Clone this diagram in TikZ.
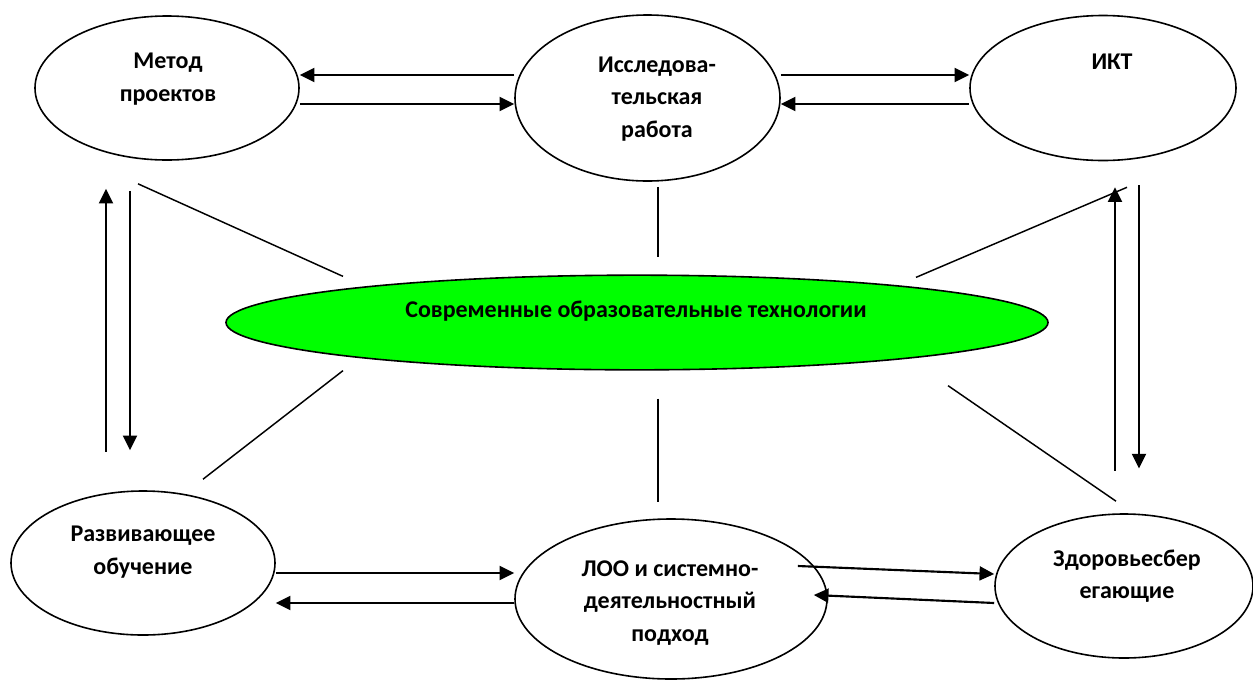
\documentclass[tikz,border=0pt]{standalone}
\usepackage{fontspec}
\setmainfont{Carlito}
\usetikzlibrary{shapes.geometric,arrows.meta,calc}

\tikzset{every picture/.style={line width=0.75pt}}
\tikzset{
  oval/.style={draw, ellipse, line width=1.2pt, inner sep=0pt},
  lbl/.style={align=center, inner sep=0.75pt, font=\fontsize{18}{24.5}\selectfont\bfseries},
  arr/.style={line width=1.6pt, -{Triangle[length=11pt,width=10.5pt]}},
  tie/.style={line width=1.1pt},
}

\begin{document}
\begin{tikzpicture}[x=0.75pt,y=0.75pt,yscale=-1,xscale=1]
\useasboundingbox (0,0) rectangle (1253,679);

%Shape: Ellipse
\node[oval, minimum width=198pt, minimum height=108pt] (mp) at (167,88) {};
%Shape: Ellipse
\node[oval, minimum width=198.75pt, minimum height=124.5pt] (ir) at (647.5,98) {};
%Shape: Ellipse
\node[oval, minimum width=199.5pt, minimum height=108.75pt] (ikt) at (1103,88) {};
%Shape: Ellipse
\node[oval, fill={rgb,255:red,0;green,255;blue,0}, minimum width=616.5pt, minimum height=71pt] (sot) at (637,322.5) {};
%Shape: Ellipse
\node[oval, minimum width=198pt, minimum height=108pt] (ro) at (143,563) {};
%Shape: Ellipse
\node[oval, minimum width=234pt, minimum height=120pt] (loo) at (671,599) {};
%Shape: Ellipse
\node[oval, minimum width=193.5pt, minimum height=108pt] (zs) at (1124,586) {};

%Straight Lines
\draw[arr] (ir.west |- 0,75) -- (mp.east |- 0,75);
\draw[arr] (mp.east |- 0,104) -- (ir.west |- 0,104);
\draw[arr] (ir.east |- 0,75) -- (ikt.west |- 0,75);
\draw[arr] (ikt.west |- 0,104) -- (ir.east |- 0,104);
%Straight Lines
\draw[arr, shorten <=29pt, shorten >=21pt] (ro.north -| 106,0) -- (mp.south -| 106,0);
\draw[arr, shorten <=22.5pt, shorten >=30pt] (mp.south -| 130,0) -- (ro.north -| 130,0);
\draw[arr, shorten <=32pt, shorten >=19.5pt] (zs.north -| 1115,0) -- (ikt.south -| 1115,0);
\draw[arr, shorten <=18pt, shorten >=33.5pt] (ikt.south -| 1139,0) -- (zs.north -| 1139,0);
%Straight Lines
\draw[arr] (ro.east |- 0,573) -- (loo.west |- 0,573);
\draw[arr] (loo.west |- 0,603) -- (ro.east |- 0,603);
\draw[arr] ($(loo.east)+(-30,-33)$) -- ($(zs.west)+(0,-12)$);
\draw[arr] ($(zs.west)+(0,17)$) -- ($(loo.east)+(-14,-4)$);
%Straight Lines
\draw[tie] ($(mp.south)+(-29,23)$) -- ($(sot.north)+(-294,2)$);
\draw[tie] ($(ir.south)+(10.5,5)$) -- ($(sot.north)+(21,-17)$);
\draw[tie] ($(ikt.south)+(24,26)$) -- ($(sot.north)+(279,3)$);
\draw[tie] ($(sot.south)+(-294,0)$) -- ($(ro.north)+(60,-11)$);
\draw[tie] ($(sot.south)+(21,28)$) -- ($(loo.north)+(-13,-16)$);
\draw[tie] ($(sot.south)+(311,15)$) -- ($(zs.north)+(-8,-12)$);

% Text Node
\node[lbl] (mpt) at (168,79) {Метод\\проектов};
% Text Node
\node[lbl] (irt) at (657,99) {Исследова-\\тельская\\работа};
% Text Node
\node[lbl] (iktt) at (1112,62) {ИКТ};
% Text Node
\node[lbl] (sott) at (636,311) {Современные образовательные технологии};
% Text Node
\node[lbl] (rot) at (143,552) {Развивающее\\обучение};
% Text Node
\node[lbl] (loot) at (670,603) {ЛОО и системно-\\деятельностный\\подход};
% Text Node
\node[lbl] (zst) at (1127,576) {Здоровьесбер\\егающие};

\end{tikzpicture}
\end{document}
